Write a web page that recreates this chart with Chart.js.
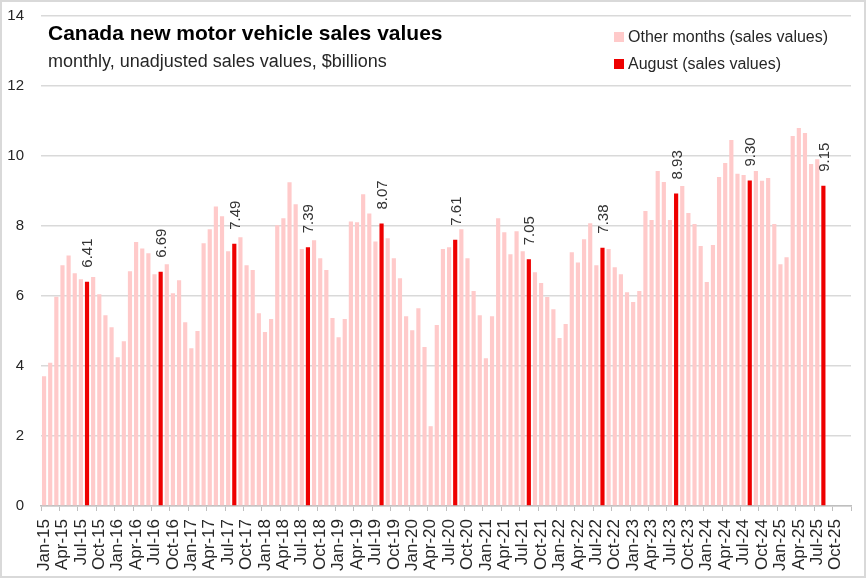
<!DOCTYPE html>
<html>
<head>
<meta charset="utf-8">
<title>Canada new motor vehicle sales values</title>
<script src="https://cdn.jsdelivr.net/npm/chart.js@4.4.1/dist/chart.umd.min.js"></script>
<style>
    html, body { margin: 0; padding: 0; background: #fff; }
    #wrap {
        width: 866px; height: 578px;
        box-sizing: border-box;
        border: 2px solid #d9d9d9;
        background: #fff;
    }
    #salesChart { display: block; }
</style>
</head>
<body>
<div id="wrap"><canvas id="salesChart" width="862" height="574"></canvas></div>
<script>
'use strict';

// ─── Data ─────────────────────────────────────────────────────
const MONTH_NAMES = ['Jan', 'Feb', 'Mar', 'Apr', 'May', 'Jun', 'Jul', 'Aug', 'Sep', 'Oct', 'Nov', 'Dec'];
const YEARS = ['15', '16', '17', '18', '19', '20', '21', '22', '23', '24', '25'];
const HIGHLIGHT_MONTH = 'Aug';

// $billions, Jan-15 .. Aug-25 (one row per year)
const SALES_2015 = [3.71, 4.09, 5.98, 6.88, 7.16, 6.65, 6.48, 6.41, 6.54, 6.05, 5.45, 5.11];
const SALES_2016 = [4.25, 4.71, 6.71, 7.54, 7.36, 7.22, 6.62, 6.69, 6.91, 6.08, 6.45, 5.25];
const SALES_2017 = [4.51, 5.00, 7.51, 7.91, 8.56, 8.28, 7.28, 7.49, 7.68, 6.88, 6.74, 5.51];
const SALES_2018 = [4.97, 5.34, 8.02, 8.22, 9.25, 8.62, 7.34, 7.39, 7.59, 7.08, 6.74, 5.37];
const SALES_2019 = [4.82, 5.34, 8.13, 8.11, 8.91, 8.36, 7.56, 8.07, 7.65, 7.08, 6.51, 5.42];
const SALES_2020 = [5.02, 5.65, 4.54, 2.28, 5.17, 7.34, 7.39, 7.61, 7.91, 7.08, 6.14, 5.45];
const SALES_2021 = [4.22, 5.42, 8.22, 7.82, 7.19, 7.85, 7.28, 7.05, 6.68, 6.37, 5.97, 5.62];
const SALES_2022 = [4.80, 5.20, 7.25, 6.96, 7.62, 8.08, 6.88, 7.38, 7.34, 6.82, 6.62, 6.11];
const SALES_2023 = [5.83, 6.14, 8.43, 8.17, 9.57, 9.26, 8.17, 8.93, 9.14, 8.37, 8.06, 7.43];
const SALES_2024 = [6.40, 7.46, 9.40, 9.80, 10.46, 9.49, 9.46, 9.30, 9.57, 9.29, 9.37, 8.06];
const SALES_2025 = [6.91, 7.11, 10.57, 10.80, 10.66, 9.77, 9.91, 9.15];

const Y_TICKS = [0, 2, 4, 6, 8, 10, 12, 14];

const TITLE = 'Canada new motor vehicle sales values';
const SUBTITLE = 'monthly, unadjusted sales values, $billions';
const LEGEND_OTHER = 'Other months (sales values)';
const LEGEND_AUG = 'August (sales values)';

const COLOR_OTHER = '#ffcaca';
const COLOR_AUG = '#ee0000';
const TEXT_COLOR = '#262626';
const FONT = '"Liberation Sans", Arial, sans-serif';

// ─── Build categories & series ────────────────────────────────
const categories = [];
YEARS.forEach(y => MONTH_NAMES.forEach(m => categories.push(`${m}-${y}`)));

const sales = [].concat(SALES_2015, SALES_2016, SALES_2017, SALES_2018, SALES_2019,
    SALES_2020, SALES_2021, SALES_2022, SALES_2023, SALES_2024, SALES_2025);

const otherData = categories.map((c, i) =>
    (i < sales.length && !c.startsWith(HIGHLIGHT_MONTH)) ? sales[i] : null);
const augData = categories.map((c, i) =>
    (i < sales.length && c.startsWith(HIGHLIGHT_MONTH)) ? sales[i] : null);

// ─── Plugins ──────────────────────────────────────────────────
const augLabels = {
    id: 'augLabels',
    afterDatasetsDraw(chart) {
        const { ctx } = chart;
        const meta = chart.getDatasetMeta(1);
        ctx.save();
        ctx.font = `15px ${FONT}`;
        ctx.fillStyle = '#333';
        ctx.textAlign = 'left';
        ctx.textBaseline = 'alphabetic';
        meta.data.forEach((bar, i) => {
            const v = augData[i];
            if (v == null) return;
            ctx.save();
            ctx.translate(bar.x, bar.y - 14);
            ctx.rotate(-Math.PI / 2);
            ctx.fillText(v.toFixed(2), 0, 5.4);
            ctx.restore();
        });
        ctx.restore();
    }
};

const headerAndLegend = {
    id: 'headerAndLegend',
    afterDraw(chart) {
        const { ctx } = chart;
        ctx.save();
        ctx.fillStyle = '#000';
        ctx.textAlign = 'left';
        ctx.textBaseline = 'alphabetic';
        ctx.font = `bold 21px ${FONT}`;
        ctx.fillText(TITLE, 46, 38);
        ctx.fillStyle = TEXT_COLOR;
        ctx.font = `18px ${FONT}`;
        ctx.fillText(SUBTITLE, 46, 65);

        ctx.font = `16px ${FONT}`;
        ctx.textBaseline = 'middle';
        ctx.fillStyle = COLOR_OTHER;
        ctx.fillRect(612, 30, 10, 10);
        ctx.fillStyle = TEXT_COLOR;
        ctx.fillText(LEGEND_OTHER, 626, 36);
        ctx.fillStyle = COLOR_AUG;
        ctx.fillRect(612, 57, 10, 10);
        ctx.fillStyle = TEXT_COLOR;
        ctx.fillText(LEGEND_AUG, 626, 63);
        ctx.restore();
    }
};

// ─── Chart ────────────────────────────────────────────────────
new Chart(document.getElementById('salesChart'), {
    type: 'bar',
    data: {
        labels: categories,
        datasets: [
            {
                label: LEGEND_OTHER,
                data: otherData,
                backgroundColor: COLOR_OTHER,
                barPercentage: 0.68,
                categoryPercentage: 1,
                grouped: false
            },
            {
                label: LEGEND_AUG,
                data: augData,
                backgroundColor: COLOR_AUG,
                barPercentage: 0.68,
                categoryPercentage: 1,
                grouped: false
            }
        ]
    },
    options: {
        responsive: false,
        animation: false,
        layout: { padding: { top: 14, right: 13, bottom: 0, left: 0 } },
        plugins: {
            legend: { display: false },
            tooltip: { enabled: false }
        },
        scales: {
            x: {
                offset: true,
                afterFit: s => { s.height = 70; s.paddingLeft = 0; s.paddingRight = 0; },
                grid: {
                    offset: true,
                    drawOnChartArea: false,
                    drawTicks: true,
                    tickLength: 5,
                    lineWidth: 1,
                    color: c => (c.index === undefined || c.index % 3 === 0) ? '#bfbfbf' : 'rgba(0,0,0,0)'
                },
                border: { display: true, color: '#bfbfbf', width: 1.5 },
                ticks: {
                    autoSkip: false,
                    minRotation: 90,
                    maxRotation: 90,
                    padding: 8,
                    color: TEXT_COLOR,
                    font: { family: FONT, size: 17 },
                    callback: (v, i) => (i % 3 === 0 ? categories[i] : '')
                }
            },
            y: {
                min: Y_TICKS[0],
                max: Y_TICKS[Y_TICKS.length - 1],
                afterFit: s => { s.width = 39; s.paddingTop = 0; s.paddingBottom = 0; },
                afterBuildTicks: s => { s.ticks = Y_TICKS.map(v => ({ value: v })); },
                grid: { color: '#d9d9d9', lineWidth: 1.5, drawTicks: false },
                border: { display: false },
                ticks: {
                    padding: 17,
                    color: TEXT_COLOR,
                    font: { family: FONT, size: 15 }
                }
            }
        }
    },
    plugins: [augLabels, headerAndLegend]
});
</script>
</body>
</html>
